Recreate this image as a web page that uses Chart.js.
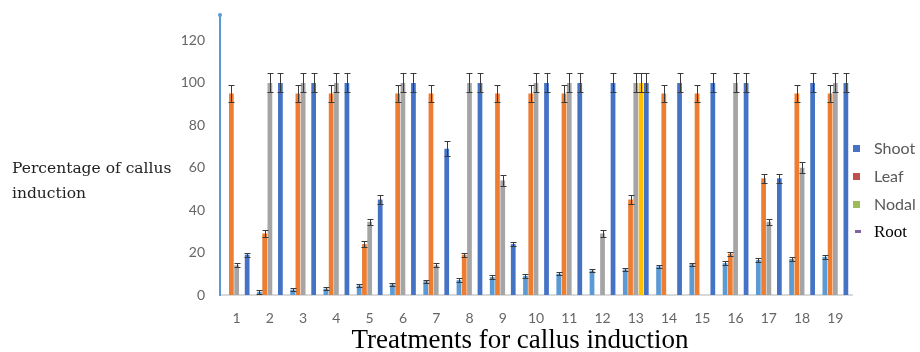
<!DOCTYPE html>
<html>
<head>
<meta charset="utf-8">
<script src="https://cdn.jsdelivr.net/npm/chart.js@4.4.1/dist/chart.umd.min.js"></script>
<style>
    body { margin: 0; background: #fff; }
    #wrap { position: relative; width: 920px; height: 352px; overflow: hidden; }
    #ytitle { position: absolute; left: 12px; top: 156px; font-family: "DejaVu Serif", serif; font-size: 15.5px; line-height: 25px; color: #222; white-space: nowrap; }
    #xtitle { position: absolute; left: 300px; width: 440px; top: 325px; text-align: center; font-family: "Liberation Serif", serif; font-size: 27px; line-height: 28px; color: #000; white-space: nowrap; }
    .lg { position: absolute; left: 853px; height: 20px; line-height: 20px; white-space: nowrap; }
    .lg i { display: inline-block; width: 7px; height: 7px; vertical-align: middle; margin-right: 14px; margin-top: -3px; }
    .lg span { font-family: Lato, sans-serif; font-size: 16px; color: #595959; }
    .lg span.serif { font-family: "Liberation Serif", serif; font-size: 17px; color: #000; }
</style>
</head>
<body>
<div id="wrap">
    <canvas id="myChart" width="920" height="352"></canvas>
    <div id="ytitle">Percentage of callus<br>induction</div>
    <div id="xtitle">Treatments for callus induction</div>
    <div class="lg" style="top:138px"><i style="background:#4472C4"></i><span>Shoot</span></div>
    <div class="lg" style="top:166px"><i style="background:#C0504D"></i><span>Leaf</span></div>
    <div class="lg" style="top:194px"><i style="background:#9BBB59"></i><span>Nodal</span></div>
    <div class="lg" style="top:222px"><i style="background:#8064A2;height:3px;width:6px;margin-left:2px;margin-right:13px"></i><span class="serif">Root</span></div>
</div>
<script>
// treatments 1..19
var labels = ['1', '2', '3', '4', '5', '6', '7', '8', '9', '10', '11', '12', '13', '14', '15', '16', '17', '18', '19'];

// bars (5 coloured series per treatment)
var lightBlue    = [0, 1.5, 2.5, 3, 4.5, 5, 6.5, 7, 8.5, 9, 10, 11.5, 12, 13.5, 14.5, 15, 16.5, 17, 18];
var lightBlueErr = [0, 0.8, 0.8, 0.8, 0.8, 0.8, 0.8, 0.8, 0.8, 0.8, 0.8, 0.8, 0.8, 0.8, 0.8, 0.8, 0.8, 0.8, 0.8];
var orange       = [95, 29, 95, 95, 24, 95, 95, 19, 95, 95, 95, null, 45, 95, 95, 19.5, 55, 95, 95];
var orangeErr    = [4, 1.5, 4, 4, 1.5, 4, 4, 1, 4, 4, 4, 0, 2, 4, 4, 1, 2, 4, 4];
var gray         = [14, 100, 100, 100, 34.5, 100, 14, 100, 54, 100, 100, 29, 100, null, null, 100, 34.5, 60, 100];
var grayErr      = [1, 4.5, 4.5, 4.5, 1.5, 4.5, 1, 4.5, 2.5, 4.5, 4.5, 1.5, 4.5, 0, 0, 4.5, 1.5, 2.5, 4.5];
var yellow       = [null, null, null, null, null, null, null, null, null, null, null, null, 100, null, null, null, null, null, null];
var yellowErr    = [0, 0, 0, 0, 0, 0, 0, 0, 0, 0, 0, 0, 4.5, 0, 0, 0, 0, 0, 0];
var darkBlue     = [19, 100, 100, 100, 45, 100, 69, 100, 24, 100, 100, 100, 100, 100, 100, 100, 55, 100, 100];
var darkBlueErr  = [1, 4.5, 4.5, 4.5, 2, 4.5, 3.5, 4.5, 1, 4.5, 4.5, 4.5, 4.5, 4.5, 4.5, 4.5, 2, 4.5, 4.5];

var yTicks = [0, 20, 40, 60, 80, 100, 120];

function makeSet(data, err, color) {
    return { data: data, err: err, backgroundColor: color, barPercentage: 0.9, categoryPercentage: 0.79 };
}

// error bars drawn through the y scale
var errorBars = {
    id: 'errorBars',
    afterDatasetsDraw: function (chart) {
        var ctx = chart.ctx;
        var y = chart.scales.y;
        ctx.save();
        ctx.strokeStyle = '#3a3a3a';
        ctx.lineWidth = 1;
        chart.data.datasets.forEach(function (ds, i) {
            var meta = chart.getDatasetMeta(i);
            meta.data.forEach(function (bar, k) {
                var v = ds.data[k];
                var e = ds.err[k];
                if (v === null || !e) return;
                var top = Math.round(y.getPixelForValue(v + e)) + 0.5;
                var bot = Math.round(y.getPixelForValue(Math.max(v - e, 0))) + 0.5;
                var x = Math.round(bar.x) + 0.5;
                ctx.beginPath();
                ctx.moveTo(x, top); ctx.lineTo(x, bot);
                ctx.moveTo(x - 3, top); ctx.lineTo(x + 3, top);
                ctx.moveTo(x - 3, bot); ctx.lineTo(x + 3, bot);
                ctx.stroke();
            });
        });
        // little dot at the top of the value axis
        ctx.fillStyle = '#5B9BD5';
        ctx.beginPath();
        ctx.arc(chart.chartArea.left, chart.chartArea.top, 2, 0, Math.PI * 2);
        ctx.fill();
        ctx.restore();
    }
};

new Chart(document.getElementById('myChart'), {
    type: 'bar',
    data: {
        labels: labels,
        datasets: [
            makeSet(lightBlue, lightBlueErr, '#5B9BD5'),
            makeSet(orange, orangeErr, '#ED7D31'),
            makeSet(gray, grayErr, '#A5A5A5'),
            makeSet(yellow, yellowErr, '#FFC000'),
            makeSet(darkBlue, darkBlueErr, '#4472C4')
        ]
    },
    options: {
        responsive: false,
        animation: false,
        layout: { padding: { left: 180, right: 68, top: 15, bottom: 0 } },
        plugins: { legend: { display: false }, tooltip: { enabled: false } },
        scales: {
            x: {
                grid: { display: false, drawTicks: false },
                border: { display: true, color: '#D9D9D9', width: 2 },
                ticks: { color: '#666', padding: 15, font: { family: 'Lato', size: 14 } },
                afterFit: function (s) { s.height = 57; s.paddingLeft = 0; s.paddingRight = 0; }
            },
            y: {
                min: 0,
                max: 132,
                grid: { display: false, drawTicks: false },
                border: { display: true, color: '#5B9BD5', width: 2 },
                ticks: { color: '#666', padding: 15, stepSize: 20, font: { family: 'Lato', size: 14 } },
                afterBuildTicks: function (s) {
                    s.ticks = yTicks.map(function (v) { return { value: v }; });
                },
                afterFit: function (s) { s.width = 40; s.paddingTop = 0; s.paddingBottom = 0; }
            }
        }
    },
    plugins: [errorBars]
});
</script>
</body>
</html>
